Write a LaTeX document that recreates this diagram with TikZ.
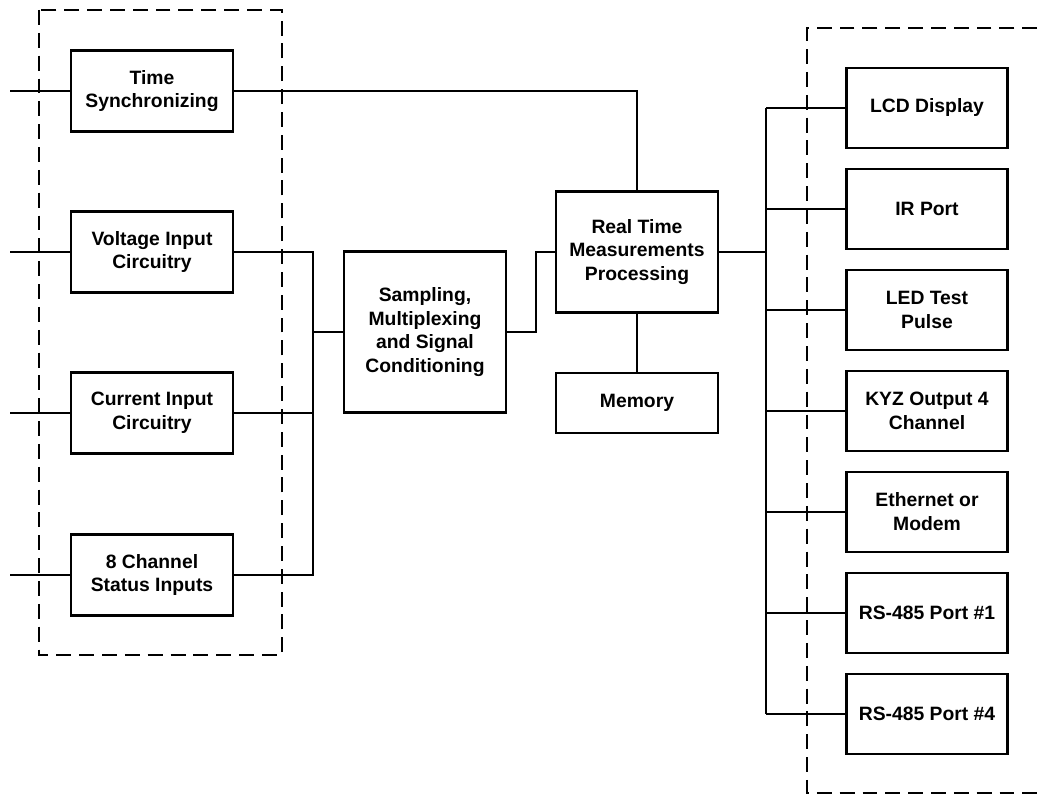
\documentclass[tikz,border=0pt]{standalone}
\usepackage{fontspec}
\setmainfont{Liberation Sans}
\usetikzlibrary{arrows}

\tikzset{
  blk/.style={draw, line width=1.3pt, minimum width=3.24cm, minimum height=1.62cm,
    align=center, inner sep=2pt, font=\bfseries\fontsize{11}{13.6}\selectfont},
  wire/.style={line width=1.3pt},
  dashbox/.style={line width=1.3pt, dash pattern=on 8.5pt off 4.5pt}
}

\begin{document}
\begin{tikzpicture}[x=0.02cm,y=-0.02cm]
\clip (0,0) rectangle (1042,794);

\draw[dashbox] (39,10) rectangle (282,655);
\draw[dashbox] (1060,28)--(807,28)--(807,793)--(1060,793);

\coordinate (inleft) at (10,0);
\coordinate (lbus) at (313,0);
\coordinate (jog) at (536,0);
\coordinate (rbus) at (766,0);

\node[blk] (tsync) at (152,91) {Time\\Synchronizing};
\node[blk] (vin) at (152,252) {Voltage Input\\Circuitry};
\node[blk] (cin) at (152,413) {Current Input\\Circuitry};
\node[blk] (stat) at (152,575) {8 Channel\\Status Inputs};

\node[blk, minimum height=3.22cm] (samp) at (425,332) {Sampling,\\Multiplexing\\and Signal\\Conditioning};
\node[blk, minimum height=2.42cm] (rtmp) at (637,252) {Real Time\\Measurements\\Processing};
\node[blk, minimum height=1.2cm] (mem) at (637,403) {Memory};

\foreach \n/\t [count=\i from 0] in {lcd/LCD Display, ir/IR Port, led/LED Test\\Pulse,
    kyz/KYZ Output 4\\Channel, eth/Ethernet or\\Modem, rsa/RS-485 Port \#1, rsb/RS-485 Port \#4}{
  \node[blk, minimum width=3.22cm, minimum height=1.6cm] (\n) at (927,{108+101*\i}) {\t};
  \draw[wire] (rbus |- \n.west)--(\n.west);
}

\foreach \n in {tsync,vin,cin,stat}{
  \draw[wire] (\n.west)--(\n.west -| inleft);
}
\draw[wire] (tsync.east)--(rtmp.north |- tsync.east)--(rtmp.north);

\draw[wire] (vin.east)--(vin.east -| lbus)--(stat.east -| lbus)--(stat.east);
\draw[wire] (cin.east)--(cin.east -| lbus);
\draw[wire] (samp.west -| lbus)--(samp.west);
\draw[wire] (samp.east)--(samp.east -| jog)--(rtmp.west -| jog)--(rtmp.west);
\draw[wire] (rtmp.south)--(mem.north);

\draw[wire] (rtmp.east)--(rtmp.east -| rbus);
\draw[wire] (rbus |- lcd.west)--(rbus |- rsb.west);
\end{tikzpicture}
\end{document}
